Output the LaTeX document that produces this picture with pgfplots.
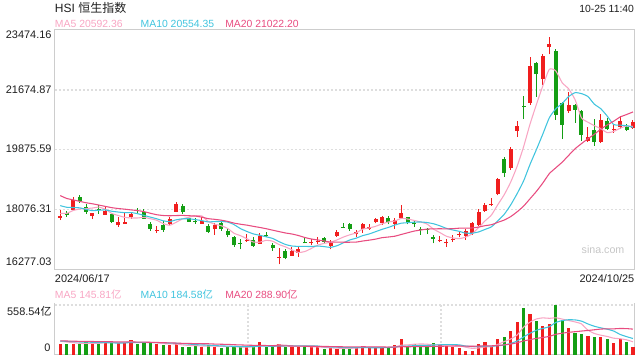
\documentclass[border=0pt]{standalone}
\usepackage{pgfplots}
\pgfplotsset{compat=1.18}
\usepackage{pgfplotstable}
\usepackage{fontspec}
\setmainfont{Liberation Sans}
\newfontfamily\cjk{Noto Sans CJK SC}
\definecolor{kred}{RGB}{240,30,30}
\definecolor{kgreen}{RGB}{20,158,20}
\definecolor{maA}{RGB}{248,165,195}
\definecolor{maB}{RGB}{64,196,222}
\definecolor{maC}{RGB}{232,76,128}
\definecolor{bord}{RGB}{205,205,205}
\definecolor{gridc}{RGB}{222,222,222}
\definecolor{txt}{RGB}{30,30,30}

% candles: x O H L C V (volume in 亿)
\pgfplotstableread{
x O H L C V
0 17833 18060 17754 17893 123
2 18055 18446 18043 18365 123
5 17893 17974 17784 17974 123
7 17923 18163 17923 18034 160
9 17602 17843 17562 17703 138
10 17652 17974 17652 17703 138
11 17853 17974 17793 17954 168
15 17442 17582 17362 17472 123
17 17633 17843 17612 17784 112
18 18013 18305 18013 18245 123
22 17652 17843 17652 17733 93
24 17482 17682 17312 17612 93
29 17121 17342 17111 17151 86
31 17051 17382 17040 17281 149
34 16619 16911 16429 16649 123
36 16689 16960 16679 16840 93
37 16779 16980 16659 16880 93
39 17071 17181 17001 17101 86
40 17111 17241 17040 17141 86
42 16990 17161 16880 17061 74
43 17281 17462 17261 17402 71
46 17332 17462 17261 17392 82
47 17502 17662 17382 17632 101
48 17502 17632 17462 17562 86
49 17703 17833 17662 17784 86
50 17662 17883 17612 17843 86
52 17642 17814 17492 17763 112
53 17814 18214 17784 17964 179
59 17131 17281 17091 17161 112
60 17061 17181 16960 17091 101
61 17171 17312 17111 17201 93
62 17300 17420 17240 17350 82
63 17290 17480 17160 17420 48
64 17382 17713 17312 17662 48
65 17612 18085 17582 18013 123
66 18043 18285 18013 18214 149
67 18204 18415 18184 18234 93
68 18545 19020 18500 18990 179
70 19319 19950 19268 19900 268
71 20450 20751 20270 20591 372
73 21293 22677 21223 22397 462
75 22006 22758 21825 22698 328
76 22948 23260 22738 23059 346
79 21043 21624 20992 21223 302
82 20149 20552 20119 20270 212
84 20119 20952 20070 20772 205
86 20472 20622 20390 20502 138
87 20553 20892 20511 20751 182
89 20541 20772 20511 20712 93
}\redK

\pgfplotstableread{
x O H L C V
1 17974 18034 17853 17914 123
3 18446 18515 18265 18335 123
4 18163 18235 17953 18013 160
6 18085 18214 17944 18055 123
8 17944 17964 17663 17713 138
12 18063 18124 17934 18033 123
13 18013 18085 17784 17803 138
14 17652 17703 17442 17502 138
16 17612 17742 17412 17462 112
19 18184 18245 17953 18013 93
20 17814 17844 17713 17713 93
21 17733 17814 17642 17703 101
23 17582 17642 17362 17412 112
25 17662 17713 17442 17482 82
26 17442 17512 17241 17302 93
27 17241 17281 16960 17001 86
28 17081 17181 16880 17051 93
30 17151 17241 16960 16981 101
32 17312 17412 17241 17281 93
33 17011 17061 16840 16920 93
35 16840 16880 16579 16629 93
38 17091 17241 17061 17061 93
41 17211 17241 17040 17101 63
44 17562 17682 17532 17532 82
45 17642 17662 17442 17482 82
51 17833 17883 17632 17693 86
54 17843 17864 17632 17682 101
55 17662 17733 17562 17632 123
56 17492 17542 17312 17462 101
57 17482 17532 17332 17452 101
58 17261 17312 17061 17201 138
69 19590 19668 19066 19168 205
72 21185 21494 20792 21154 529
74 22478 22497 21474 22147 383
77 22857 22899 20772 20922 558.54
78 21274 21323 20191 20621 391
80 21223 21253 20691 21073 249
81 21053 21073 20149 20321 235
83 20471 20792 19990 20100 205
85 20751 20822 20471 20492 179
88 20571 20652 20451 20471 145
}\greenK

% price moving averages
\pgfplotstableread{
x a b c
0 17962 18192.5 18494.35
1 17959.6 18143.6 18408.25
2 18045.2 18135.7 18365.5
3 18089.8 18126.7 18322.5
4 18104 18080.4 18279.75
5 18120.2 18041.1 18248
6 18148.4 18054 18209.4
7 18082.2 18063.7 18170.05
8 17957.8 18023.8 18131.85
9 17895.8 17999.9 18105.5
10 17841.6 17980.9 18086.7
11 17821.4 17984.9 18064.25
12 17821.2 17951.7 18043.7
13 17839.2 17898.5 18012.6
14 17799 17847.4 17963.9
15 17750.8 17796.2 17918.65
16 17652.4 17736.9 17895.45
17 17602.6 17711.9 17887.8
18 17691 17765.1 17894.45
19 17793.2 17796.1 17898
20 17843.4 17797.1 17889
21 17891.6 17772 17878.45
22 17881.4 17742 17846.85
23 17714.8 17702.9 17800.7
24 17634.6 17713.9 17780.65
25 17588.4 17715.9 17756.05
26 17508.2 17699.9 17718.4
27 17361.8 17621.6 17666.75
28 17289.6 17502.2 17633.65
29 17197.4 17416 17606.05
30 17097.2 17342.8 17569.95
31 17093 17300.6 17536.3
32 17149 17255.4 17498.7
33 17122.8 17206.2 17454.55
34 17022.4 17109.9 17411.9
35 16952 17024.6 17370.25
36 16863.8 16978.4 17339.15
37 16783.6 16966.3 17293.95
38 16811.8 16967.3 17234.75
39 16902.2 16962.3 17189.15
40 17004.6 16978.3 17160.55
41 17056.8 16960.3 17130.45
42 17093 16938.3 17096.85
43 17161.2 16986.5 17096.35
44 17247.4 17074.8 17092.35
45 17315.6 17160.1 17092.35
46 17373.8 17215.3 17096.85
47 17488 17290.5 17128.4
48 17520 17340.6 17153.95
49 17570.4 17408.9 17185.6
50 17642.6 17479.1 17228.7
51 17702.8 17538.3 17249.3
52 17729 17608.5 17273.4
53 17809.4 17664.7 17325.6
54 17789 17679.7 17377.25
55 17746.8 17694.7 17427.4
56 17700.6 17701.7 17458.5
57 17638.4 17683.7 17487.1
58 17485.8 17647.6 17494.1
59 17381.6 17585.3 17497.1
60 17273.4 17510.1 17494.6
61 17221.2 17460.9 17499.6
62 17200.8 17419.6 17514.05
63 17244.6 17365.2 17514.95
64 17344.8 17363.2 17521.45
65 17529.2 17401.3 17548
66 17731.8 17476.5 17589.1
67 17908.6 17554.7 17619.2
68 18222.6 17733.6 17690.6
69 18523.8 17934.3 17759.8
70 18901.2 18215.2 17862.65
71 19376.6 18554.2 18007.55
72 19960.6 18934.6 18177.1
73 20642 19432.3 18398.75
74 21237.8 19880.8 18622
75 21797.4 20349.3 18875.3
76 22291 20833.8 19155.15
77 22244.6 21102.6 19328.65
78 21889.4 21265.7 19499.65
79 21704.6 21471.2 19702.75
80 21379.6 21588.5 19901.85
81 20832 21561.5 20057.85
82 20701.6 21473.1 20203.85
83 20597.4 21243.4 20337.85
84 20507.2 21105.9 20493.35
85 20387 20885.3 20617.3
86 20423.2 20629.6 20731.7
87 20519.4 20612.5 20857.55
88 20587.6 20597.5 20931.6
89 20575.6 20546.4 21008.8
}\priceMA

% volume moving averages
\pgfplotstableread{
x a b c
0 152.6 156.3 158.2
1 145.2 152.6 156.3
2 137.8 148.9 154.5
3 130.4 145.2 152.6
4 130.4 145.2 152.6
5 130.4 141.5 150.8
6 130.4 137.8 148.9
7 137.8 137.8 148.9
8 140.8 135.6 147.8
9 136.4 133.4 146.7
10 139.4 134.9 145.6
11 148.4 139.4 146
12 141 139.4 144.2
13 141 140.9 143.1
14 141 138.7 142
15 138 138.7 140.1
16 126.8 137.6 137.7
17 124.6 132.8 135.3
18 121.6 131.3 133.5
19 112.6 126.8 130.1
20 106.6 122.3 128.6
21 104.4 115.6 127.5
22 100.6 112.6 126
23 98.4 110 125.5
24 98.4 105.5 122.1
25 96.2 101.4 120.1
26 94.6 99.5 118.6
27 93.2 96.9 114.9
28 89.4 93.9 112.6
29 88 93.2 110
30 91.8 94 108.2
31 103 98.8 107.2
32 104.4 98.8 105.7
33 104.4 96.9 103.5
34 111.8 99.9 102.7
35 110.2 101 101.2
36 99 101 100.3
37 99 101.7 99.3
38 99 101.7 97.8
39 91.6 101.7 97.5
40 90.2 100.2 97.1
41 84.2 91.6 95.2
42 80.4 89.7 94.3
43 76 87.5 92.2
44 75.2 83.4 91.7
45 74.4 82.3 91.7
46 78.2 81.2 91.1
47 83.6 82 91.9
48 86.6 81.3 91.5
49 87.4 81.3 91.5
50 88.2 81.3 90.8
51 89 83.6 87.6
52 91.2 87.4 88.6
53 109.8 98.2 92.9
54 112.8 100.1 91.8
55 120.2 104.2 93.3
56 123.2 106.1 93.7
57 121 106.1 94.1
58 112.8 111.3 96.3
59 115 113.9 97.6
60 110.6 115.4 98.4
61 109 116.1 99.9
62 105.2 113.1 100.3
63 87.2 100 99.1
64 74.4 94.7 97.4
65 78.8 94.7 99.5
66 90 99.5 102.8
67 92.2 98.7 102.4
68 118.4 102.8 107.1
69 149.8 112.1 113
70 178.8 128.8 122.1
71 223.4 156.7 136.4
72 310.6 201.4 157.3
73 367.2 242.8 171.4
74 402.8 276.3 185.5
75 414.8 296.8 195.8
76 409.6 316.5 208
77 415.5 363 230.9
78 401.3 384.3 243.5
79 385.1 394 253
80 369.3 392 260.4
81 347.1 378.4 267.5
82 277.8 346.7 274
83 240.6 321 281.9
84 221.2 303.2 289.7
85 207.2 288.3 292.5
86 187.8 267.5 292
87 181.8 229.8 296.4
88 169.8 205.2 294.7
89 147.4 184.3 289.1
}\volMA

\begin{document}
\begin{tikzpicture}
\useasboundingbox (0,0) rectangle (480pt,270pt);

% ---------- price panel ----------
\begin{axis}[
  at={(41.25pt,68.0pt)}, anchor=south west,
  width=434.25pt, height=179.5pt, scale only axis,
  xmin=-0.82, xmax=89.16, ymin=16277.03, ymax=23474.16,
  axis line style={draw=bord, line width=0.75pt},
  xtick=\empty, ytick={18076.31,19875.59,21674.87}, yticklabels={},
  scaled y ticks=false, scaled x ticks=false,
  major tick length=0pt,
  ymajorgrids, grid style={draw=gridc, line width=1.2pt, dash pattern=on 1.5pt off 1.5pt},
  clip=false,
]
% wicks
\addplot[draw=none, mark=none, forget plot,
  error bars/.cd, y dir=plus, y explicit, error mark=none,
  error bar style={draw=kred, line width=0.75pt}]
  table[x=x, y=L, y error plus expr=\thisrow{H}-\thisrow{L}] {\redK};
\addplot[draw=none, mark=none, forget plot,
  error bars/.cd, y dir=plus, y explicit, error mark=none,
  error bar style={draw=kgreen, line width=0.75pt}]
  table[x=x, y=L, y error plus expr=\thisrow{H}-\thisrow{L}] {\greenK};
% bodies
\addplot[draw=none, mark=none, forget plot,
  error bars/.cd, y dir=plus, y explicit, error mark=none,
  error bar style={draw=kred, line width=3pt}]
  table[x=x, y=O, y error plus expr=\thisrow{C}-\thisrow{O}] {\redK};
\addplot[draw=none, mark=none, forget plot,
  error bars/.cd, y dir=plus, y explicit, error mark=none,
  error bar style={draw=kgreen, line width=3pt}]
  table[x=x, y=C, y error plus expr=\thisrow{O}-\thisrow{C}] {\greenK};
% moving averages
\addplot[maA, line width=0.8pt, smooth, tension=0.35] table[x=x, y=a] {\priceMA};
\addplot[maB, line width=0.8pt, smooth, tension=0.35] table[x=x, y=b] {\priceMA};
\addplot[maC, line width=0.8pt, smooth, tension=0.35] table[x=x, y=c] {\priceMA};
\end{axis}

% ---------- volume panel ----------
\begin{axis}[
  at={(41.25pt,3.75pt)}, anchor=south west,
  width=434.25pt, height=37.5pt, scale only axis,
  xmin=-0.82, xmax=89.16, ymin=0, ymax=558.54,
  axis line style={draw=none},
  xtick={29.17,59.17}, ytick={558.54}, xticklabels={}, yticklabels={},
  scaled y ticks=false, scaled x ticks=false,
  major tick length=0pt,
  xmajorgrids, ymajorgrids, grid style={draw=gridc, line width=1.2pt, dash pattern=on 1.5pt off 1.5pt},
  clip=false,
]
\draw[bord, line width=0.75pt] (rel axis cs:0,1.04) -- (rel axis cs:0,0) -- (rel axis cs:1,0) -- (rel axis cs:1,1.04);
\addplot[ycomb, draw=kred, line width=2.4pt, forget plot] table[x=x, y=V] {\redK};
\addplot[ycomb, draw=kgreen, line width=2.4pt, forget plot] table[x=x, y=V] {\greenK};
\addplot[maA, line width=0.8pt, smooth, tension=0.35] table[x=x, y=a] {\volMA};
\addplot[maB, line width=0.8pt, smooth, tension=0.35] table[x=x, y=b] {\volMA};
\addplot[maC, line width=0.8pt, smooth, tension=0.35] table[x=x, y=c] {\volMA};
\end{axis}

% ---------- texts ----------
\begin{scope}[every node/.style={inner sep=0pt, outer sep=0pt}]
\node[anchor=base west, text=txt, font=\fontsize{9pt}{10pt}\selectfont] at ({55*0.75pt},{(360-12.5)*0.75pt}) {HSI {\cjk 恒生指数}};
\node[anchor=base east, text=txt, font=\fontsize{7.8pt}{9pt}\selectfont] at ({634*0.75pt},{(360-12.3)*0.75pt}) {10-25 11:40};

\node[anchor=base west, text=maA, font=\fontsize{7.8pt}{9pt}\selectfont] at ({55*0.75pt},{(360-28)*0.75pt}) {MA5 20592.36};
\node[anchor=base west, text=maB, font=\fontsize{7.8pt}{9pt}\selectfont] at ({140.7*0.75pt},{(360-28)*0.75pt}) {MA10 20554.35};
\node[anchor=base west, text=maC, font=\fontsize{7.8pt}{9pt}\selectfont] at ({225.3*0.75pt},{(360-28)*0.75pt}) {MA20 21022.20};

\node[anchor=base east, text=txt, font=\fontsize{8.2pt}{9pt}\selectfont] at ({51.5*0.75pt},{(360-38.3)*0.75pt}) {23474.16};
\node[anchor=base east, text=txt, font=\fontsize{8.2pt}{9pt}\selectfont] at ({51.5*0.75pt},{(360-93.6)*0.75pt}) {21674.87};
\node[anchor=base east, text=txt, font=\fontsize{8.2pt}{9pt}\selectfont] at ({51.5*0.75pt},{(360-153)*0.75pt}) {19875.59};
\node[anchor=base east, text=txt, font=\fontsize{8.2pt}{9pt}\selectfont] at ({51.5*0.75pt},{(360-212.7)*0.75pt}) {18076.31};
\node[anchor=base east, text=txt, font=\fontsize{8.2pt}{9pt}\selectfont] at ({51.5*0.75pt},{(360-266)*0.75pt}) {16277.03};

\node[anchor=base west, text=txt, font=\fontsize{8.2pt}{9pt}\selectfont] at ({55*0.75pt},{(360-282.3)*0.75pt}) {2024/06/17};
\node[anchor=base east, text=txt, font=\fontsize{8.2pt}{9pt}\selectfont] at ({634.3*0.75pt},{(360-282.3)*0.75pt}) {2024/10/25};

\node[anchor=base west, text=gray!45, font=\fontsize{8pt}{9pt}\selectfont] at ({581.7*0.75pt},{(360-253.3)*0.75pt}) {sina.com};

\node[anchor=base west, text=maA, font=\fontsize{7.8pt}{9pt}\selectfont] at ({55*0.75pt},{(360-298.5)*0.75pt}) {MA5 145.81{\cjk 亿}};
\node[anchor=base west, text=maB, font=\fontsize{7.8pt}{9pt}\selectfont] at ({140.7*0.75pt},{(360-298.5)*0.75pt}) {MA10 184.58{\cjk 亿}};
\node[anchor=base west, text=maC, font=\fontsize{7.8pt}{9pt}\selectfont] at ({225.3*0.75pt},{(360-298.5)*0.75pt}) {MA20 288.90{\cjk 亿}};

\node[anchor=base east, text=txt, font=\fontsize{8.2pt}{9pt}\selectfont] at ({51.5*0.75pt},{(360-315.3)*0.75pt}) {558.54{\cjk 亿}};
\node[anchor=base east, text=txt, font=\fontsize{8.2pt}{9pt}\selectfont] at ({50.5*0.75pt},{(360-351.5)*0.75pt}) {0};
\end{scope}
\end{tikzpicture}
\end{document}
